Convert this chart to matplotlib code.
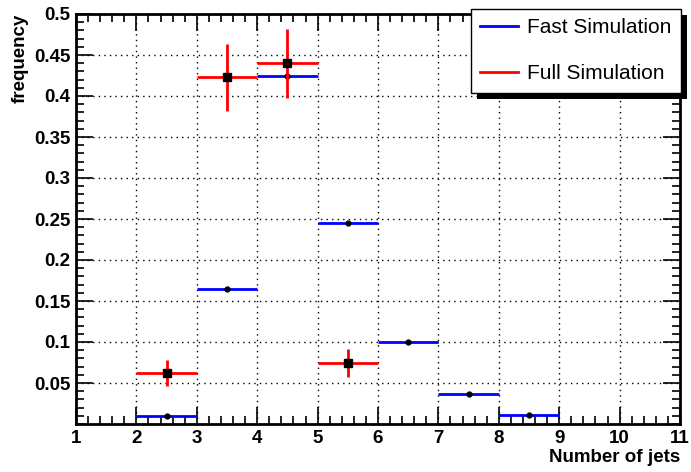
import matplotlib
matplotlib.use("Agg")
import matplotlib.pyplot as plt
from matplotlib.ticker import MultipleLocator
from matplotlib.patches import Rectangle

plt.rcParams['font.family'] = ['Liberation Sans', 'DejaVu Sans']

# jet multiplicity bins (centres) and normalised frequencies
fast_x = [2.5, 3.5, 4.5, 5.5, 6.5, 7.5, 8.5]
fast_y = [0.0095, 0.165, 0.424, 0.245, 0.100, 0.036, 0.011]

full_x = [2.5, 3.5, 4.5, 5.5]
full_y = [0.062, 0.423, 0.440, 0.074]
full_err = [0.016, 0.041, 0.042, 0.017]

y_ticks = [0.05, 0.1, 0.15, 0.2, 0.25, 0.3, 0.35, 0.4, 0.45, 0.5]
y_labels = ['0.05', '0.1', '0.15', '0.2', '0.25', '0.3', '0.35', '0.4', '0.45', '0.5']

W, H = 691, 472
fig = plt.figure(figsize=(W/100, H/100), dpi=100)
ax = fig.add_axes([76/W, 1 - 424/H, 604/W, 410/H])

ax.errorbar(fast_x, fast_y, xerr=0.5, fmt='o', color='blue', mfc='black', mec='black',
            ms=3.5, lw=2, capsize=0, label='Fast Simulation', zorder=3)
ax.errorbar(full_x, full_y, xerr=0.5, yerr=full_err, fmt='s', color='red', mfc='black',
            mec='black', ms=5.5, lw=2, capsize=0, label='Full Simulation', zorder=4)

ax.set_xlim(1, 11)
ax.set_ylim(0, 0.5)
ax.xaxis.set_major_locator(MultipleLocator(1))
ax.xaxis.set_minor_locator(MultipleLocator(0.2))
ax.set_yticks(y_ticks)
ax.set_yticklabels(y_labels)
ax.yaxis.set_minor_locator(MultipleLocator(0.01))
ax.tick_params(which='both', direction='in', top=True, right=True, width=1.2)
ax.tick_params(which='major', length=12, labelsize=13.5, pad=4)
ax.tick_params(which='minor', length=6)
for lab in ax.get_xticklabels() + ax.get_yticklabels():
    lab.set_fontweight('bold')
for s in ax.spines.values():
    s.set_linewidth(2)

ax.grid(True, which='major', color='black', linestyle=(0, (1, 3)), lw=1)

ax.set_xlabel('Number of jets', fontsize=13.5, fontweight='bold', loc='right', labelpad=2)
ax.set_ylabel('frequency', fontsize=13.5, fontweight='bold', loc='top', labelpad=4)

# legend box with a hard drop shadow
handles = [plt.Line2D([], [], color='blue', lw=2), plt.Line2D([], [], color='red', lw=2)]
leg = fig.legend(handles, ['Fast Simulation', 'Full Simulation'], loc='upper right',
                 bbox_to_anchor=(681/W, 1 - 9/H), fontsize=15, fancybox=False,
                 framealpha=1, edgecolor='black', borderpad=0.45, labelspacing=1.3,
                 handlelength=1.8, handletextpad=0.45, borderaxespad=0)
leg.get_frame().set_linewidth(1)
leg.set_zorder(10)

fig.canvas.draw()
bb = leg.get_window_extent().transformed(fig.transFigure.inverted())
shadow = Rectangle((bb.x0 + 6/W, bb.y0 - 6/H), bb.width, bb.height, transform=fig.transFigure,
                   facecolor='black', edgecolor='none', zorder=9)
fig.add_artist(shadow)

fig.savefig('out.png', dpi=100)
